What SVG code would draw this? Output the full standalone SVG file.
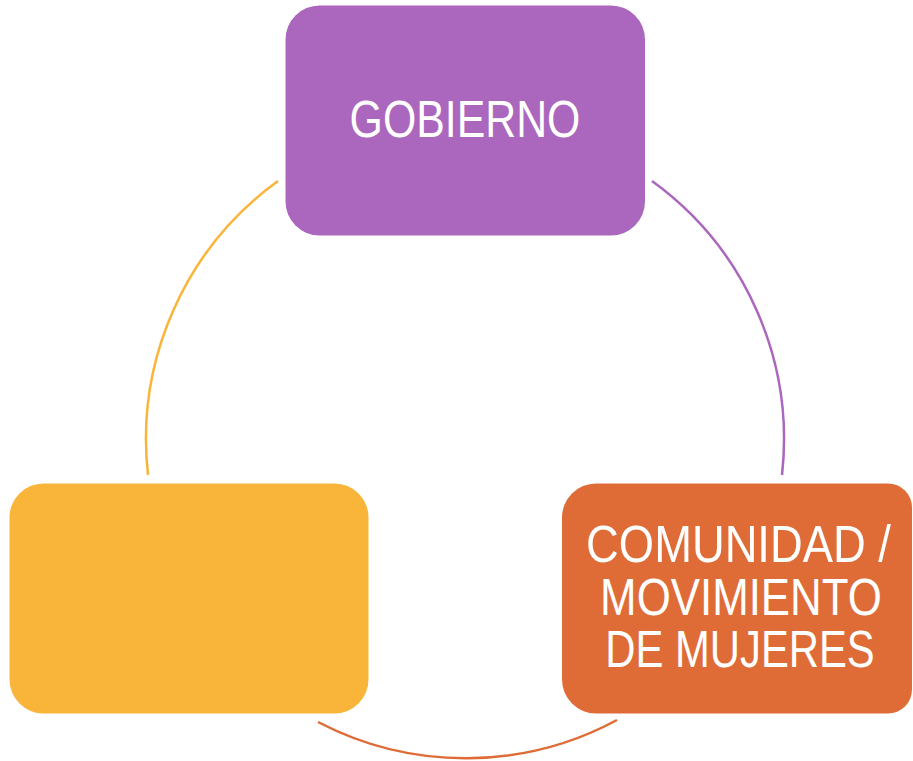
<svg xmlns="http://www.w3.org/2000/svg" width="913" height="761" viewBox="0 0 913 761">
<style>
.arc{fill:none;stroke-width:2.5;stroke-linecap:butt}
.lbl{fill:#ffffff;font-family:"Liberation Sans","DejaVu Sans",sans-serif;font-size:51px;text-anchor:middle}
</style>
<rect width="913" height="761" fill="#ffffff"/>
<g id="connectors">
<path class="arc" stroke="#AB66BD" d="M652,181 A319,319 0 0 1 782,475"/>
<path class="arc" stroke="#DF6C37" d="M617,720 A319,319 0 0 1 318,722"/>
<path class="arc" stroke="#F9B53A" d="M148,475 A319,319 0 0 1 278,181"/>
</g>
<g id="node-gobierno">
<rect x="285.5" y="5.5" width="359.5" height="230" rx="34" ry="34" fill="#AB66BD"/>
<text class="lbl" transform="translate(465,137) scale(0.84,1)">GOBIERNO</text>
</g>
<g id="node-comunidad">
<path fill="#DF6C37" d="M596,483.5 H888 A24,24 0 0 1 912,507.5 V689.5 A24,24 0 0 1 888,713.5 H596 A34,34 0 0 1 562,679.5 V517.5 A34,34 0 0 1 596,483.5 Z"/>
<text class="lbl" transform="translate(738.5,562) scale(0.889,1)">COMUNIDAD /</text>
<text class="lbl" transform="translate(741,615) scale(0.86,1)">MOVIMIENTO</text>
<text class="lbl" transform="translate(740,667) scale(0.82,1)">DE MUJERES</text>
</g>
<g id="node-blank">
<rect x="9.5" y="483.5" width="359" height="230" rx="34" ry="34" fill="#F9B53A"/>
</g>
</svg>
